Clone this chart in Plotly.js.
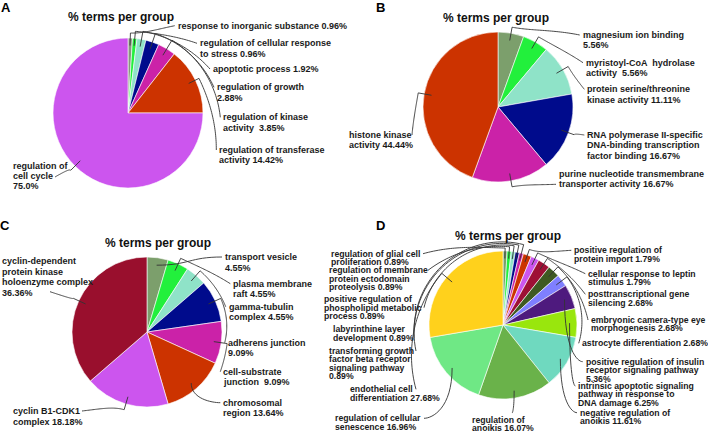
<!DOCTYPE html>
<html><head><meta charset="utf-8">
<script src="https://cdn.plot.ly/plotly-3.0.1.min.js"></script>
<style>html,body{margin:0;padding:0;background:#fff}#chart{width:708px;height:432px}</style>
</head><body><div id="chart"></div>
<script>
// ---------------- DATA ----------------
const termsA = ['response to inorganic substance 0.96%', 'regulation of cellular response<br>to stress 0.96%', 'apoptotic process 1.92%', 'regulation of growth<br>2.88%', 'regulation of kinase<br>activity  3.85%', 'regulation of transferase<br>activity 14.42%', 'regulation of<br>cell cycle<br>75.0%'];
const valuesA = [0.96, 0.96, 1.92, 2.88, 3.85, 14.42, 75.0];

const termsB = ['magnesium ion binding<br>5.56%', 'myristoyl-CoA  hydrolase<br>activity  5.56%', 'protein serine/threonine<br>kinase activity 11.11%', 'RNA polymerase II-specific<br>DNA-binding transcription<br>factor binding 16.67%', 'purine nucleotide transmembrane<br>transporter activity 16.67%', 'histone kinase<br>activity 44.44%'];
const valuesB = [5.56, 5.56, 11.11, 16.67, 16.67, 44.44];

const termsC = ['transport vesicle<br>4.55%', 'plasma membrane<br>raft 4.55%', 'gamma-tubulin<br>complex 4.55%', 'adherens junction<br>9.09%', 'cell-substrate<br>junction  9.09%', 'chromosomal<br>region 13.64%', 'cyclin B1-CDK1<br>complex 18.18%', 'cyclin-dependent<br>protein kinase<br>holoenzyme complex<br>36.36%'];
const valuesC = [4.55, 4.55, 4.55, 9.09, 9.09, 13.64, 18.18, 36.36];

const termsD = ['regulation of glial cell<br>proliferation 0.89%', 'regulation of membrane<br>protein ectodomain<br>proteolysis 0.89%', 'positive regulation of<br>phospholipid metabolic<br>process 0.89%', 'labyrinthine layer<br>development 0.89%', 'transforming growth<br>factor beta receptor<br>signaling pathway<br>0.89%', 'positive regulation of<br>protein import 1.79%', 'cellular response to leptin<br>stimulus 1.79%', 'posttranscriptional gene<br>silencing 2.68%', 'embryonic camera-type eye<br>morphogenesis 2.68%', 'astrocyte differentiation 2.68%', 'positive regulation of insulin<br>receptor signaling pathway<br>5.36%', 'intrinsic apoptotic signaling<br>pathway in response to<br>DNA damage 6.25%', 'negative regulation of<br>anoikis 11.61%', 'regulation of<br>anoikis 16.07%', 'regulation of cellular<br>senescence 16.96%', 'endothelial cell<br>differentiation 27.68%'];
const valuesD = [0.89, 0.89, 0.89, 0.89, 0.89, 1.79, 1.79, 2.68, 2.68, 2.68, 5.36, 6.25, 11.61, 16.07, 16.96, 27.68];

const panelLetters = ['A', 'B', 'C', 'D'];
const panelTitle = '% terms per group';

// ---------------- STYLE ----------------
const SAGE='#7C9F6C', GREEN='#22F03C', AQUA='#8FE3C8', NAVY='#000B8C', MAG='#CB22A8', ORANGE='#CC3300', VIOLET='#CC55EE', CRIMSON='#990F2D';
const colorsA = ['#8A9480', GREEN, AQUA, NAVY, MAG, ORANGE, VIOLET];
const colorsB = [SAGE, GREEN, AQUA, NAVY, MAG, ORANGE];
const colorsC = [SAGE, GREEN, AQUA, NAVY, MAG, ORANGE, VIOLET, CRIMSON];
const colorsD = [SAGE, GREEN, AQUA, NAVY, MAG, ORANGE, VIOLET, '#9E1035', '#3F5A22', '#7F7FFF', '#4E1A7E', '#99E60D', '#6FD9BF', '#6AB24A', '#6FE885', '#FFD11C'];

const W = 708, H = 432;
const FONT = 'Liberation Sans, Arial, sans-serif';

// layout of each panel (pixel positions)
const panels = [
  {terms: termsA, values: valuesA, colors: colorsA, cx: 128, cy: 113, r: 75, lh: 10.3, fs: 9,
   title: [121.5, 17], letter: [6, 8],
   pos: [[176.7,25.7],[199,43.3],[212,69],[216,87.3],[222.3,117.3],[218.3,150],[11.7,165.7]],
   ends: {6: [55,177]}, modes: {}, gaps: {0:5,1:7,2:8,3:9,4:10,5:4}},
  {terms: termsB, values: valuesB, colors: colorsB, cx: 498, cy: 107, r: 75, lh: 10.3, fs: 9,
   title: [496, 18.3], letter: [380.7, 8],
   pos: [[581.7,35],[585,62.7],[586.3,89.3],[586.3,135],[558.3,174],[348.3,135]],
   ends: {4: [556,184.3], 5: [412,135]}, modes: {}, gaps: {}},
  {terms: termsC, values: valuesC, colors: colorsC, cx: 147, cy: 332, r: 75, lh: 10.5, fs: 9,
   title: [158.3, 242.7], letter: [4.5, 225],
   pos: [[224,257],[232.3,283.7],[227.7,306.7],[226.7,342.7],[222.3,371.7],[222.3,402.7],[12.3,411],[1,261]],
   ends: {6: [82,411], 7: [50,291.7]}, modes: {0:'h', 5:'v'}, gaps: {}},
  {terms: termsD, values: valuesD, colors: colorsD, cx: 503, cy: 325, r: 74, lh: 8.4, fs: 8.7,
   title: [507.7, 236], letter: [380.7, 225],
   pos: [[330,253.7],[327.7,270.3],[323.3,299.3],[331.7,329.3],[327.7,351],[573.3,250.3],[587.3,273.7],[587.3,294.3],[590,320],[580.7,343.3],[584.7,361.7],[577.3,386],[579,412.7],[470.7,420],[334.3,418.3],[349.3,389.3]],
   ends: {0:[423,253.7],1:[428,270.3],2:[424,307.7],3:[414,337.7],4:[416,351],13:[512,413],14:[424,418.3],15:[416,389.3]},
   modes: {10:'v',11:'v',12:'v',13:'v',14:'v'}, gaps: {0:3,1:4.5,2:6,3:7.5,4:9}}
];

const X = px => px / W, Y = py => 1 - py / H;
function polar(p, ang, rho){ const a = ang*Math.PI/180; return [p.cx + rho*Math.sin(a), p.cy - rho*Math.cos(a)]; }

function leaderPath(p, thetaS, E, mode, gap){
  const S = polar(p, thetaS, 0.9*p.r);
  if (mode === 'v' || mode === 'h'){
    let C1, C2;
    if (mode === 'v'){ C1 = [S[0], S[1] + 0.8*(E[1]-S[1])]; C2 = [E[0] - 0.3*(E[0]-S[0]), E[1]]; }
    else { const dx = E[0]-S[0]; C1 = [S[0]+0.5*dx, S[1]]; C2 = [E[0]-0.5*dx, E[1]]; }
    return `M ${X(S[0])} ${Y(S[1])} C ${X(C1[0])} ${Y(C1[1])}, ${X(C2[0])} ${Y(C2[1])}, ${X(E[0])} ${Y(E[1])}`;
  }
  const rho1 = p.r + gap;
  const dx = E[0]-p.cx, dy = E[1]-p.cy;
  let thE = Math.atan2(dx, -dy)*180/Math.PI;
  while (thE - thetaS > 180) thE -= 360;
  while (thE - thetaS < -180) thE += 360;
  const rhoE = Math.hypot(dx, dy);
  const pts = [S];
  for (let i = 0; i <= 40; i++){ const t = i/40; pts.push(polar(p, thetaS + t*(thE-thetaS), rho1 + (rhoE-rho1)*t*t)); }
  return 'M ' + pts.map(q => `${X(q[0])} ${Y(q[1])}`).join(' L ');
}

const traces = [], annotations = [], shapes = [];
panels.forEach((p, k) => {
  traces.push({
    type: 'pie', values: p.values, labels: p.terms.map(t => t.replace(/<br>/g, ' ')),
    marker: {colors: p.colors, line: {color: '#ffffff', width: 0.6}},
    sort: false, direction: 'clockwise', rotation: 0, textinfo: 'none', hoverinfo: 'label',
    showlegend: false,
    domain: {x: [X(p.cx - p.r), X(p.cx + p.r)], y: [Y(p.cy + p.r), Y(p.cy - p.r)]}
  });
  annotations.push({xref:'paper', yref:'paper', x: X(p.title[0]), y: Y(p.title[1]), xanchor:'center', yanchor:'middle',
    text: '<b>' + panelTitle + '</b>', showarrow:false, borderpad: 0, font:{family: FONT, size: 12, color:'#111'}});
  annotations.push({xref:'paper', yref:'paper', x: X(p.letter[0]), y: Y(p.letter[1]), xanchor:'center', yanchor:'middle',
    text: '<b>' + panelLetters[k] + '</b>', showarrow:false, borderpad: 0, font:{family: FONT, size: 13, color:'#000'}});
  const total = p.values.reduce((a, b) => a + b, 0);
  let cum = 0;
  p.values.forEach((v, i) => {
    const thetaS = 360 * (cum + v/2) / total;
    cum += v;
    const lines = p.terms[i].split('<br>');
    const [lx, ly] = p.pos[i];
    lines.forEach((ln, j) => {
      annotations.push({xref:'paper', yref:'paper', x: X(lx), y: Y(ly + j*p.lh), xanchor:'left', yanchor:'middle',
        text: '<b>' + ln + '</b>', showarrow:false, borderpad: 0, font:{family: FONT, size: p.fs, color:'#1a1a1a'}});
    });
    const E = p.ends[i] || [lx - 2, ly];
    shapes.push({type:'path', xref:'paper', yref:'paper', path: leaderPath(p, thetaS, E, p.modes[i], p.gaps[i] !== undefined ? p.gaps[i] : 6),
      line:{color:'#333333', width: 0.9}});
  });
});

Plotly.newPlot('chart', traces, {
  width: W, height: H, margin: {l:0, r:0, t:0, b:0},
  paper_bgcolor: '#ffffff', plot_bgcolor: '#ffffff',
  annotations, shapes, showlegend: false
}, {displayModeBar: false, staticPlot: true});
</script>
</body></html>
